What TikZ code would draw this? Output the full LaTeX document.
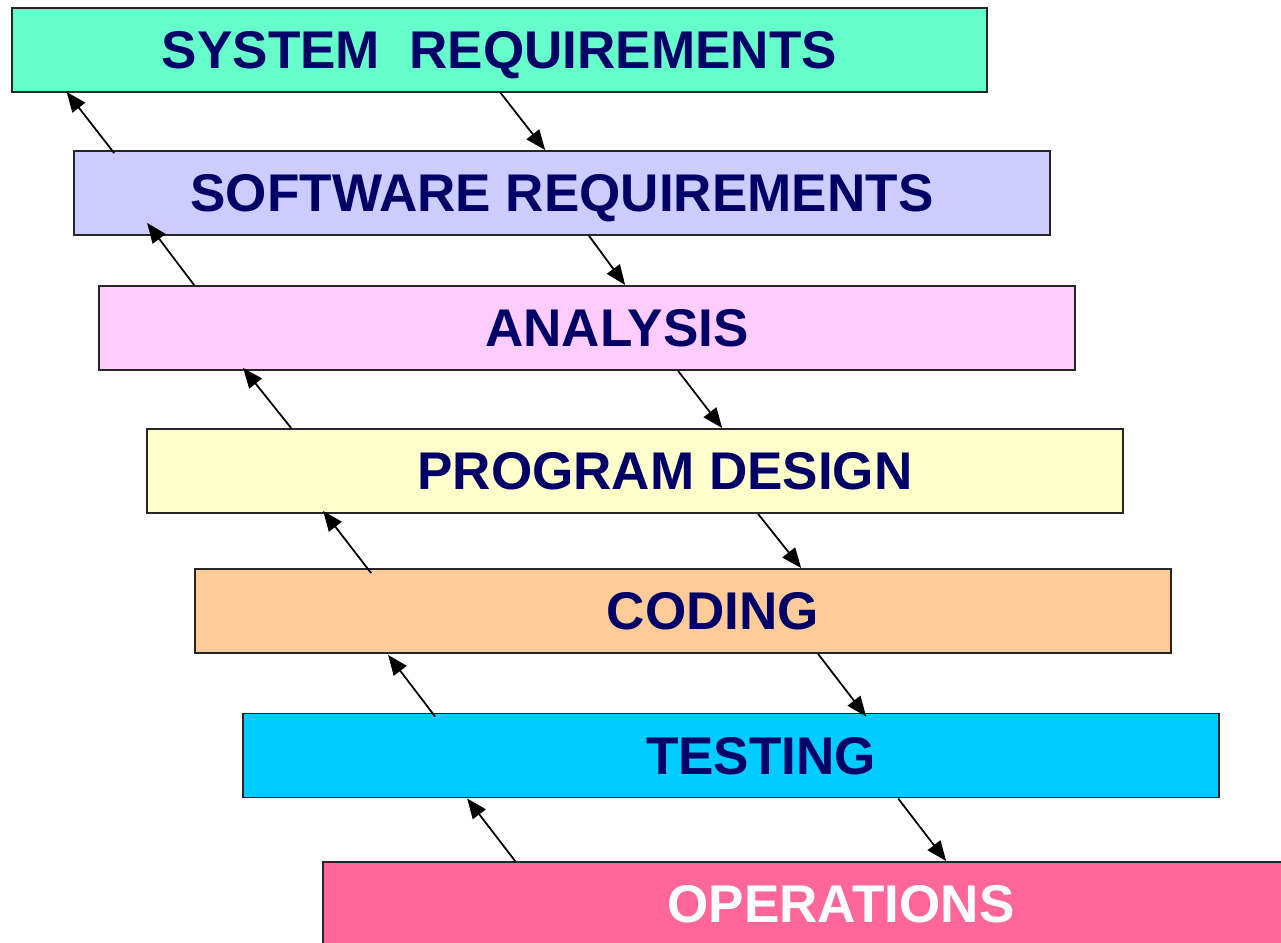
\documentclass[tikz,border=0pt]{standalone}
\usepackage{fontspec}
\setmainfont{Liberation Sans}
\usetikzlibrary{arrows.meta,calc}
\definecolor{syscol}{HTML}{66FFCC}
\definecolor{swcol}{HTML}{CCCCFF}
\definecolor{ancol}{HTML}{FFCCFF}
\definecolor{pdcol}{HTML}{FFFFCC}
\definecolor{cocol}{HTML}{FFCC99}
\definecolor{tecol}{HTML}{00CCFF}
\definecolor{opcol}{HTML}{FF6699}
\definecolor{navy}{HTML}{000066}
\tikzset{
  stage/.style={draw=black!85, line width=1.1pt, minimum width=19.52cm, minimum height=1.68cm,
    inner sep=0pt, text depth=0pt, font=\fontsize{30.2}{36}\selectfont\bfseries, text=navy},
  flow/.style={-{Triangle[length=0.4cm,width=0.32cm]}, line width=1pt}
}
\begin{document}
\begin{tikzpicture}[x=0.02cm, y=-0.02cm]
\clip (0,0) rectangle (1281,943);
\fill[white] (0,0) rectangle (1281,943);
% stages
\node[stage, fill=syscol] (sys) at (499.5,50) {SYSTEM\ \ REQUIREMENTS};
\node[stage, fill=swcol] (sw) at (562,193) {SOFTWARE REQUIREMENTS};
\node[stage, fill=ancol] (an) at (587,328) {\hspace*{1.2cm}ANALYSIS};
\node[stage, fill=pdcol] (pd) at (635,471) {\hspace*{1.2cm}PROGRAM DESIGN};
\node[stage, fill=cocol] (co) at (683,611) {\hspace*{1.2cm}CODING};
\node[stage, fill=tecol] (te) at (731,755.5) {\hspace*{1.2cm}TESTING};
\node[stage, fill=opcol, text=white] (op) at (811,904) {\hspace*{1.2cm}OPERATIONS};
% down the waterfall
\draw[flow] ($(sys.south west)+(490,0)$) -- ($(sw.north west)+(472,0)$);
\draw[flow] ($(sw.south west)+(516,0)$) -- ($(an.north west)+(527,0)$);
\draw[flow] ($(an.south west)+(580,0)$) -- ($(pd.north west)+(576,0)$);
\draw[flow] ($(pd.south west)+(612,0)$) -- ($(co.north west)+(607,0)$);
\draw[flow] ($(co.south west)+(624,0)$) -- ($(te.north west)+(624,4)$);
\draw[flow] ($(te.south west)+(656,0)$) -- ($(op.north west)+(624,0)$);
% back up
\draw[flow] ($(sw.north west)+(41,3)$) -- ($(sys.south west)+(56,-1)$);
\draw[flow] ($(an.north west)+(96,0)$) -- ($(sw.south west)+(74,-13)$);
\draw[flow] ($(pd.north west)+(145,0)$) -- ($(an.south west)+(145,-3)$);
\draw[flow] ($(co.north west)+(177,5)$) -- ($(pd.south west)+(177,-3)$);
\draw[flow] ($(te.north west)+(193,4)$) -- ($(co.south west)+(194,1)$);
\draw[flow] ($(op.north west)+(193,0)$) -- ($(te.south west)+(225,0)$);
\end{tikzpicture}
\end{document}
